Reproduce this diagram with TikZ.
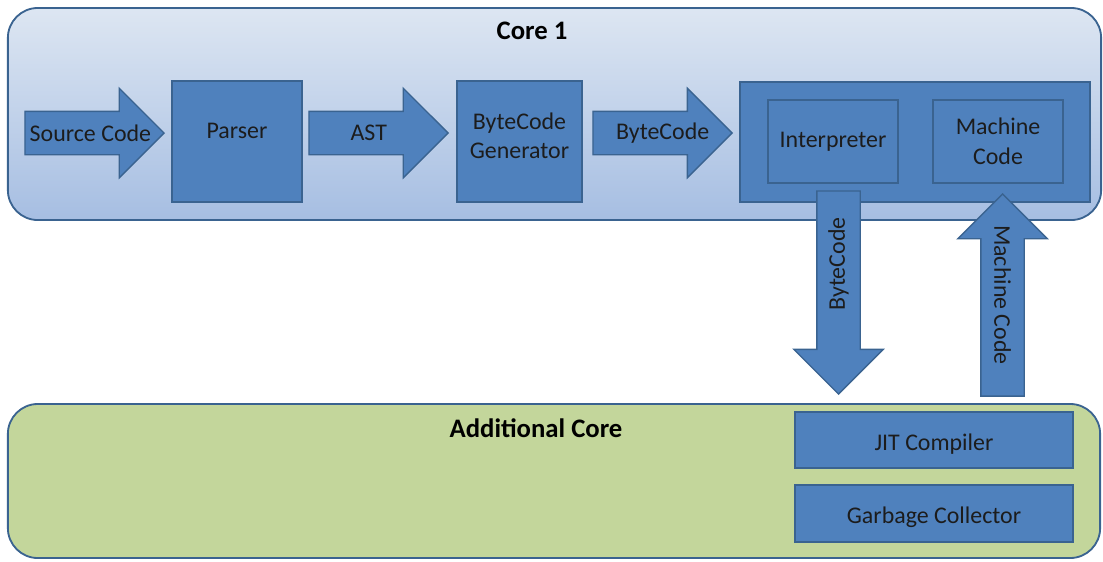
\documentclass[tikz,border=0pt]{standalone}
\usepackage{fontspec}
\setmainfont{Carlito}
\usetikzlibrary{shapes.arrows,calc}
\definecolor{jsBlue}{HTML}{4F81BD}
\definecolor{jsEdge}{HTML}{3A6390}
\definecolor{jsCoreTop}{HTML}{DDE6F2}
\definecolor{jsCoreBot}{HTML}{A6BEE2}
\definecolor{jsGreen}{HTML}{C3D69B}
\definecolor{jsText}{HTML}{1C1C1C}
\begin{document}
\begin{tikzpicture}[x=0.025cm,y=-0.025cm,
    font=\fontsize{17}{21}\selectfont,
    corebox/.style={draw=jsEdge,line width=1.3pt,rounded corners=0.75cm,inner sep=0pt},
    unitbox/.style={draw=jsEdge,line width=1pt,fill=jsBlue,text=jsText,
                    align=center,inner sep=0pt},
    barrow/.style={single arrow,draw=jsEdge,line width=1pt,fill=jsBlue,
                   inner xsep=0pt,inner ysep=0.525cm,minimum width=2.2cm,
                   single arrow head extend=0.575cm,anchor=tip},
    alabel/.style={text=jsText,inner sep=0pt},
    ctitle/.style={font=\fontsize{19}{22}\selectfont\bfseries}]
  \useasboundingbox (0,0) rectangle (1103,561);
  % top core
  \node[corebox,top color=jsCoreTop,bottom color=jsCoreBot,
        minimum width=27.325cm,minimum height=5.3cm] (core1) at (554.5,114) {};
  \node[ctitle] (core1title) at (532,31) {Core 1};
  \node[unitbox,minimum width=3.25cm,minimum height=3.025cm,text depth=15pt]
    (parser) at (237,141.5) {Parser};
  \node[unitbox,minimum width=3.125cm,minimum height=3.025cm,text depth=8pt]
    (bcgen) at (519.5,141.5) {ByteCode\\Generator};
  \node[unitbox,minimum width=8.75cm,minimum height=3cm] (engine) at (915,142) {};
  \node[unitbox,minimum width=3.25cm,minimum height=2.075cm] (interp) at (833,141.5) {Interpreter};
  \node[unitbox,minimum width=3.25cm,minimum height=2.075cm]
    (mcode) at (998,141.5) {Machine\\Code};
  % pipeline arrows
  \node[barrow,minimum height=3.475cm] (srcarrow) at (165,133) {};
  \node[alabel] at ($(srcarrow.tail)!.47!(srcarrow.tip)$) {Source Code};
  \node[barrow,minimum height=3.475cm] (astarrow) at (449,133) {};
  \node[alabel] at ($(astarrow.tail)!.43!(astarrow.tip)$) {AST};
  \node[barrow,minimum height=3.475cm] (bcarrow) at (733,133) {};
  \node[alabel] at ($(bcarrow.tail)!.5!(bcarrow.tip)$) {ByteCode};
  % between the cores
  \node[barrow,minimum height=5.075cm,rotate=-90] (bcdown) at (838.5,395) {};
  \node[alabel,rotate=90] at ($(bcdown.tail)!.36!(bcdown.tip)$) {ByteCode};
  \node[barrow,minimum height=5.05cm,rotate=90] (mcup) at (1002.5,193) {};
  \node[alabel,rotate=-90] at ($(mcup.tail)!.5!(mcup.tip)$) {Machine Code};
  % additional core
  \node[corebox,fill=jsGreen,minimum width=27.3cm,minimum height=3.85cm] (addcore) at (554,481) {};
  \node[ctitle] (addtitle) at (536,428) {Additional Core};
  \node[unitbox,minimum width=6.95cm,minimum height=1.4cm,text height=17pt]
    (jit) at (934,440) {JIT Compiler};
  \node[unitbox,minimum width=6.95cm,minimum height=1.425cm,text height=17pt]
    (gc) at (934,513.5) {Garbage Collector};
\end{tikzpicture}
\end{document}
